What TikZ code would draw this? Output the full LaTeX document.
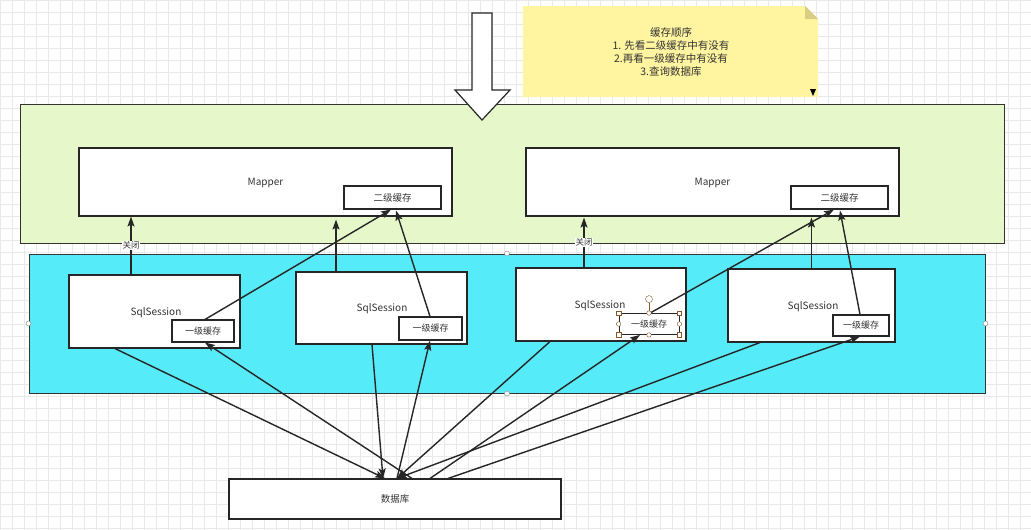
\documentclass[tikz,border=0pt]{standalone}
\usepackage{fontspec}
\setmainfont{Noto Sans CJK SC}
\usetikzlibrary{arrows.meta}
\definecolor{gridc}{HTML}{E9E9E9}
\definecolor{greenf}{HTML}{E6F8CA}
\definecolor{bluef}{HTML}{56EBF8}
\definecolor{notef}{HTML}{FFF4A0}
\definecolor{foldf}{HTML}{D8CD80}
\definecolor{txt}{HTML}{333333}
\tikzset{
  box/.style={draw=black!85, line width=1.1pt, fill=white, inner sep=0pt, text=txt, font=\fontsize{9.5}{11}\selectfont},
  cont/.style={draw=black!80, line width=1pt, inner sep=0pt},
  arr/.style={draw=black!85, line width=1.4pt, -{Stealth[length=10pt,width=7pt,inset=2pt]}},
  lbl/.style={fill=white, inner sep=0.5pt, text=txt, font=\fontsize{8.5}{10}\selectfont},
  handle/.style={circle, draw=black!50, fill=white, inner sep=0pt, minimum size=5pt}
}
\begin{document}
\begin{tikzpicture}[x=1pt,y=-1pt]
\useasboundingbox (0,0) rectangle (1031,530);
\fill[white] (0,0) rectangle (1031,530);
\draw[gridc, line width=0.5pt, step=12pt] (0,0) grid (1031,530);
% containers
\node[cont, fill=greenf, minimum width=984pt, minimum height=139pt] (green) at (512,173.5) {};
\node[cont, fill=bluef, minimum width=956pt, minimum height=139pt] (blue) at (507,323.5) {};
% big down arrow
\draw[black!85, line width=1.2pt, fill=white] (472,13) -- (492,13) -- (492,90) -- (510,90) -- (482,120) -- (455,90) -- (472,90) -- cycle;
% note
\fill[notef] (523,6) -- (805,6) -- (818,19) -- (818,97) -- (523,97) -- cycle;
\fill[foldf] (805,6) -- (818,19) -- (805,19) -- cycle;
\node[text=txt, align=center, font=\fontsize{10.5}{13}\selectfont] (note) at (671,52) {缓存顺序\\1. 先看二级缓存中有没有\\2.再看一级缓存中有没有\\3.查询数据库};
\fill[black] (810,89) -- (816,89) -- (813,96) -- cycle;
% mappers
\node[box, minimum width=373pt, minimum height=68pt] (M1) at (265.5,182) {};
\node[text=txt, font=\fontsize{10}{11}\selectfont] at (265.5,183) {Mapper};
\node[box, minimum width=373pt, minimum height=68pt] (M2) at (712.5,182) {};
\node[text=txt, font=\fontsize{10}{11}\selectfont] at (712.5,183) {Mapper};
\node[box, minimum width=97pt, minimum height=23pt] (L2a) at (392.5,197.5) {二级缓存};
\node[box, minimum width=97pt, minimum height=23pt] (L2b) at (839.5,197.5) {二级缓存};
% sessions
\node[box, minimum width=171pt, minimum height=73pt] (S1) at (154.5,311.5) {};
\node[text=txt, font=\fontsize{10}{11}\selectfont] at (156,313) {SqlSession};
\node[box, minimum width=171pt, minimum height=72pt] (S2) at (381.5,308) {};
\node[text=txt, font=\fontsize{10}{11}\selectfont] at (382,309) {SqlSession};
\node[box, minimum width=170pt, minimum height=73pt] (S3) at (601,304.5) {};
\node[text=txt, font=\fontsize{10}{11}\selectfont] at (600,306) {SqlSession};
\node[box, minimum width=167pt, minimum height=73pt] (S4) at (811.5,305.5) {};
\node[text=txt, font=\fontsize{10}{11}\selectfont] at (813,307) {SqlSession};
\node[box, minimum width=62pt, minimum height=22pt, font=\fontsize{9}{10}\selectfont] (C1) at (203,331) {一级缓存};
\node[box, minimum width=63pt, minimum height=23pt, font=\fontsize{9}{10}\selectfont] (C2) at (430.5,328.5) {一级缓存};
\node[box, minimum width=60pt, minimum height=21pt, font=\fontsize{9}{10}\selectfont, line width=0.8pt] (C3) at (649,324) {一级缓存};
\node[box, minimum width=56pt, minimum height=21pt, font=\fontsize{9}{10}\selectfont] (C4) at (861,325.5) {一级缓存};
% database
\node[box, minimum width=332pt, minimum height=40pt] (DB) at (395,499) {数据库};
% upward arrows
\draw[arr] ([xshift=-23.5pt]S1.north) -- node[lbl, pos=0.5] {关闭} ([xshift=-23.5pt]S1.north |- M1.south);
\draw[arr] ([xshift=2pt]C1.north) -- ([xshift=-1.5pt]L2a.south);
\draw[arr] ([xshift=-45.5pt]S2.north) -- ([xshift=-45.5pt,yshift=-3pt]S2.north |- M1.south);
\draw[arr] ([xshift=-0.5pt]C2.north) -- ([xshift=3.5pt,yshift=-1pt]L2a.south);
\draw[arr] ([xshift=-17pt]S3.north) -- node[lbl, pos=0.5] {关闭} ([xshift=-17pt,yshift=-1pt]S3.north |- M2.south);
\draw[arr] ([xshift=1pt]C3.north) -- ([xshift=-5.5pt]L2b.south);
\draw[arr] ([xshift=0pt]S4.north) -- ([yshift=-1pt]S4.north |- M2.south);
\draw[arr] ([xshift=-1pt]C4.north) -- ([xshift=0.5pt,yshift=-1pt]L2b.south);
% database arrows
\draw[arr] ([xshift=-39.5pt]S1.south) -- ([xshift=-10pt]DB.north);
\draw[arr] ([xshift=17pt]DB.north) -- ([xshift=2pt]C1.south);
\draw[arr] ([xshift=-9.5pt]S2.south) -- ([xshift=-12pt]DB.north);
\draw[arr] ([xshift=2pt]DB.north) -- ([xshift=-0.5pt]C2.south);
\draw[arr] ([xshift=-51pt]S3.south) -- ([xshift=2pt]DB.north);
\draw[arr] ([xshift=35pt]DB.north) -- ([xshift=-9pt]C3.south);
\draw[arr] ([xshift=-51.5pt]S4.south) -- ([xshift=2pt]DB.north);
\draw[arr] ([xshift=53pt]DB.north) -- ([xshift=-1pt]C4.south);
% selection handles
\node[handle] (h1) at (blue.north) {};
\node[handle] (h2) at (blue.south) {};
\node[handle] (h3) at (blue.west) {};
\node[handle] (h4) at (blue.east) {};
\node[handle, draw=brown!70!black, minimum size=7pt] (h5) at ([yshift=14pt]C3.north) {};
\draw[brown!70!black, line width=0.6pt] (h5) -- (C3.north);
\foreach \a in {north,south,west,east}{\node[handle, draw=brown!70!black, minimum size=4.5pt] at (C3.\a) {};}
\foreach \a in {north west,north east,south west,south east}{\node[draw=brown!70!black, fill=white, inner sep=0pt, minimum size=4.5pt] at (C3.\a) {};}
\end{tikzpicture}
\end{document}
